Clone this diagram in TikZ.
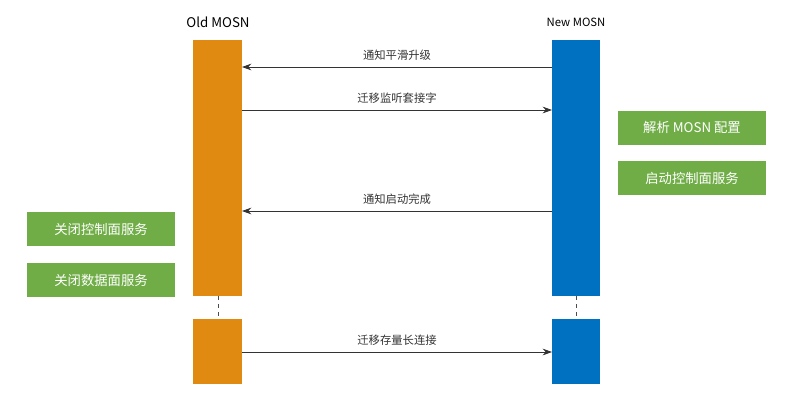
\documentclass[tikz,border=0pt]{standalone}
\usepackage{fontspec}
\setmainfont{Noto Sans CJK SC}
\usetikzlibrary{arrows.meta}
\definecolor{oldc}{HTML}{E08A12}
\definecolor{newc}{HTML}{0070C0}
\definecolor{gr}{HTML}{70AD47}
\begin{document}
\begin{tikzpicture}[x=0.75pt,y=-0.75pt,
  bar/.style={draw=none,inner sep=0},
  msg/.style={-{Stealth[length=7pt,width=5pt]},line width=0.6pt,black!80},
  lbl/.style={font=\fontsize{8.5}{10}\selectfont,above=1pt},
  gbox/.style={fill=gr,text=white,minimum width=111pt,minimum height=25.5pt,inner sep=0,font=\fontsize{10}{12}\selectfont},
  life/.style={dashed,black!70,line width=0.6pt}]
\useasboundingbox (0,0) rectangle (795,404);
\node[font=\fontsize{10}{12}\selectfont] (oldt) at (218,22) {Old MOSN};
\node[font=\fontsize{8.5}{10}\selectfont] (newt) at (576,22) {New MOSN};
\fill[oldc] (193,40) rectangle (242,296) coordinate (o1br);
\fill[oldc] (193,319) rectangle (242,384);
\fill[newc] (552,40) rectangle (600,296);
\fill[newc] (552,319) rectangle (600,384);
\coordinate (oa) at (218,296); \coordinate (ob) at (218,319);
\coordinate (na) at (576,296); \coordinate (nb) at (576,319);
\draw[life] (oa) -- (ob);
\draw[life] (na) -- (nb);
\coordinate (n1) at (552,67); \coordinate (o1) at (242,67);
\coordinate (o2) at (242,110); \coordinate (n2) at (552,110);
\coordinate (n3) at (552,211); \coordinate (o3) at (242,211);
\coordinate (o4) at (242,352); \coordinate (n4) at (552,352);
\draw[msg] (n1) -- node[lbl]{通知平滑升级} (o1);
\draw[msg] (o2) -- node[lbl]{迁移监听套接字} (n2);
\draw[msg] (n3) -- node[lbl]{通知启动完成} (o3);
\draw[msg] (o4) -- node[lbl]{迁移存量长连接} (n4);
\node[gbox] (g1) at (692,127.5) {解析 MOSN 配置};
\node[gbox] (g2) at (692,178) {启动控制面服务};
\node[gbox] (g3) at (101,229) {关闭控制面服务};
\node[gbox] (g4) at (101,280) {关闭数据面服务};
\end{tikzpicture}
\end{document}
